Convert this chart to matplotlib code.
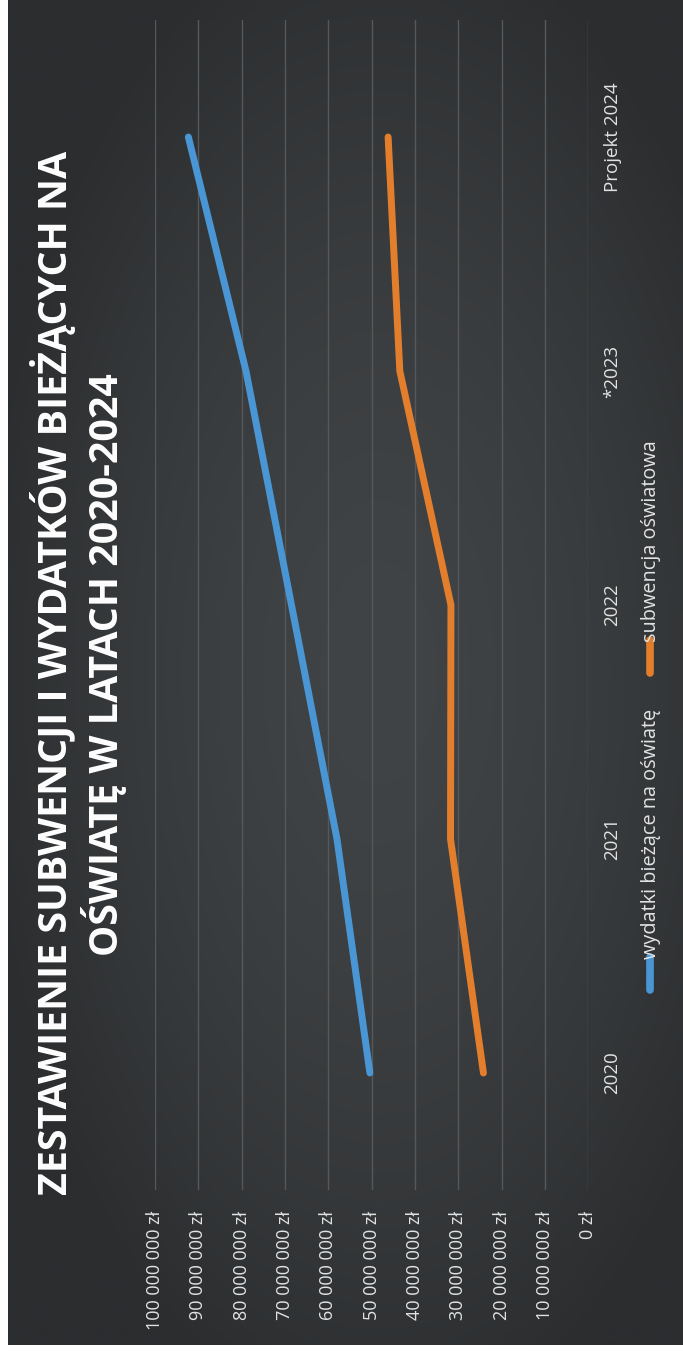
import numpy as np
import matplotlib
matplotlib.use('Agg')
import matplotlib.pyplot as plt
from matplotlib.lines import Line2D

# ---------------- data ----------------
categories = ['2020', '2021', '2022', '*2023', 'Projekt 2024']
wydatki = [50.4e6, 58.0e6, 68.5e6, 79.0e6, 92.3e6]
subwencja = [24.2e6, 31.8e6, 31.7e6, 43.5e6, 46.2e6]
value_ticks = [0, 10e6, 20e6, 30e6, 40e6, 50e6, 60e6, 70e6, 80e6, 90e6, 100e6]
value_tick_labels = ['0 zł', '10 000 000 zł', '20 000 000 zł', '30 000 000 zł',
                     '40 000 000 zł', '50 000 000 zł', '60 000 000 zł',
                     '70 000 000 zł', '80 000 000 zł', '90 000 000 zł',
                     '100 000 000 zł']
series_names = ['wydatki bieżące na oświatę', 'subwencja oświatowa']
title_lines = ['ZESTAWIENIE SUBWENCJI I WYDATKÓW BIEŻĄCYCH NA',
               'OŚWIATĘ W LATACH 2020-2024']

# ---------------- style ----------------
plt.rcParams['font.family'] = ['Open Sans', 'DejaVu Sans']
BLUE = '#4a96d4'
ORANGE = '#e37f2c'
TXT = '#e2e3e3'
GRID = '#56595b'

W, H = 683, 1353
fig = plt.figure(figsize=(W / 100, H / 100), dpi=100, facecolor='white')

def fx(px):
    return px / W

def fy(py):
    return 1 - py / H

# background with soft vignette
bg = fig.add_axes([fx(8), 8 / H, 1 - fx(8), 1 - 8 / H])
bg.set_axis_off()
gx, gy = np.meshgrid(np.linspace(-1, 1, 200), np.linspace(-1, 1, 400))
r = np.sqrt(((gx - 0.1) / 1.2) ** 2 + (gy / 1.15) ** 2)
r = np.clip(r, 0, 1)
c_in = np.array([0x41, 0x44, 0x46]) / 255
c_out = np.array([0x2b, 0x2d, 0x2f]) / 255
img = c_in[None, None, :] + (c_out - c_in)[None, None, :] * (r ** 1.6)[:, :, None]
bg.imshow(img, aspect='auto', extent=[0, 1, 0, 1], interpolation='bilinear')

# main plot (rotated layout: values horizontal, categories vertical)
ax = fig.add_axes([fx(155), fy(1190), (588.3 - 155) / W, (1190 - 20) / H])
ax.set_facecolor('none')
idx = np.arange(len(categories))
ax.plot(wydatki, idx, color=BLUE, lw=5, solid_capstyle='round',
        solid_joinstyle='round', zorder=3)
ax.plot(subwencja, idx, color=ORANGE, lw=5, solid_capstyle='round',
        solid_joinstyle='round', zorder=3)
ax.set_xlim(100e6, 0)
ax.set_ylim(-0.5, len(categories) - 0.5)
ax.set_xticks(value_ticks)
ax.set_xticklabels(value_tick_labels, rotation=90, va='top', ha='center')
ax.tick_params(axis='x', length=0, pad=15, labelcolor=TXT, labelsize=13)
ax.yaxis.tick_right()
ax.set_yticks(idx)
ax.set_yticklabels(categories, rotation=90, va='center', ha='left')
ax.tick_params(axis='y', length=0, pad=11, labelcolor=TXT, labelsize=13.5)
ax.grid(axis='x', color=GRID, lw=1.0)
ax.grid(axis='y', visible=False)
for s in ax.spines.values():
    s.set_visible(False)

# legend (rotated)
leg = [(BLUE, 990, 957, series_names[0]), (ORANGE, 673, 640, series_names[1])]
for col, y0, y1, name in leg:
    fig.add_artist(Line2D([fx(650), fx(650)], [fy(y0), fy(y1)],
                          transform=fig.transFigure, color=col, lw=5.5,
                          solid_capstyle='round'))
    fig.text(fx(651), fy(y1 + 2), name, rotation=90, ha='center', va='bottom',
             color=TXT, fontsize=14.3)

# title (rotated), fitted to measured lengths
renderer = fig.canvas.get_renderer()
specs = [(title_lines[0], 53, 1195, 150), (title_lines[1], 104, 958, 372)]
size = None
for text, xc, ybot, ytop in specs:
    t = fig.text(fx(xc), fy((ybot + ytop) / 2), text, rotation=90,
                 ha='center', va='center', color='white', fontsize=20,
                 fontweight='bold')
    if size is None:
        ext = t.get_window_extent(renderer)
        size = 20 * (ybot - ytop) / ext.height
    t.set_fontsize(size)

fig.savefig('out.png', dpi=100, facecolor=fig.get_facecolor())
